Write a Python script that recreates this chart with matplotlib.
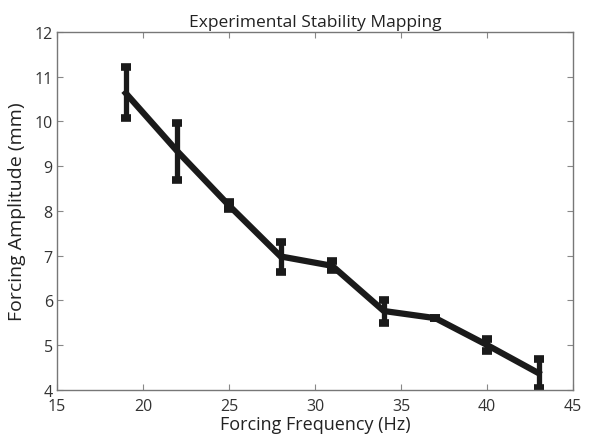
import matplotlib
matplotlib.use("Agg")
import matplotlib.pyplot as plt

# forcing frequency (Hz) and measured amplitude (mm), with error range
freq = [19, 22, 25, 28, 31, 34, 37, 40, 43]
amp = [10.63, 9.33, 8.12, 6.98, 6.77, 5.76, 5.6, 5.0, 4.37]
amp_low = [10.07, 8.69, 8.05, 6.64, 6.68, 5.49, 5.6, 4.86, 4.03]
amp_high = [11.22, 9.96, 8.2, 7.31, 6.88, 6.0, 5.6, 5.13, 4.69]

plt.rcParams['font.family'] = ['Open Sans', 'DejaVu Sans']

err_lo = [a - l for a, l in zip(amp, amp_low)]
err_hi = [h - a for a, h in zip(amp, amp_high)]

fig = plt.figure(figsize=(5.9, 4.39), dpi=100)
ax = fig.add_axes([0.0966, 0.11, 0.8746, 0.815])

ax.errorbar(freq, amp, yerr=[err_lo, err_hi], color='#1a1a1a', lw=4.5,
            elinewidth=3.8, capsize=3.3, capthick=5.5, solid_joinstyle='miter')

ax.set_xlim(15, 45)
ax.set_ylim(4, 12)
ax.set_xticks(range(15, 46, 5))
ax.set_yticks(range(4, 13))
ax.tick_params(direction='in', top=True, right=True, length=4, width=0.8,
               color='#888888', labelsize=11.5, labelcolor='#333333', pad=3)
ax.tick_params(axis='x', pad=6)
for s in ax.spines.values():
    s.set_color('#777777')
    s.set_linewidth(1.0)

ax.set_title('Experimental Stability Mapping', fontsize=12.5, color='#222222', pad=4)
ax.set_xlabel('Forcing Frequency (Hz)', fontsize=13, color='#222222', labelpad=1)
ax.set_ylabel('Forcing Amplitude (mm)', fontsize=14, color='#222222', labelpad=6)

fig.savefig('out.png', dpi=100)
